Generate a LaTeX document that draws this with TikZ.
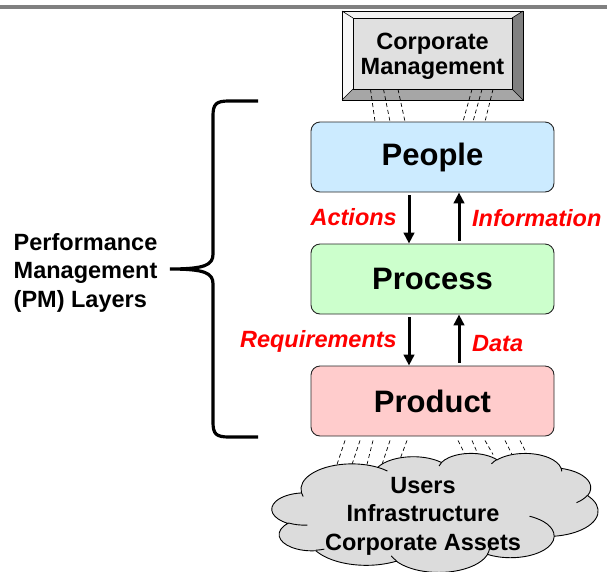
\documentclass[tikz,border=0pt]{standalone}
\usepackage{fontspec}
\setmainfont{Liberation Sans}
\usetikzlibrary{arrows.meta}
\definecolor{peoplefill}{HTML}{CCEBFF}
\definecolor{processfill}{HTML}{CCFFCC}
\definecolor{productfill}{HTML}{FFCCCC}
\definecolor{cloudfill}{HTML}{DCDCDC}
\definecolor{lblred}{HTML}{FF0000}
\tikzset{
  bigtxt/.style={font=\fontsize{23.5}{28.5}\selectfont\bfseries},
  layerbox/.style={draw=black!85, line width=0.9pt, rounded corners=9pt,
    minimum width=243pt, minimum height=70pt,
    font=\fontsize{31}{36}\selectfont\bfseries},
  flow/.style={line width=3pt, -{Triangle[length=11pt,width=10.5pt]}},
  lbl/.style={font=\fontsize{23.5}{28}\selectfont\bfseries\itshape, text=lblred, inner sep=0pt},
  ray/.style={line width=0.7pt, dash pattern=on 4pt off 3pt},
  carc/.style n args={4}{insert path={
    arc[x radius=#1, y radius=#2,
        start angle={atan2(#1*sin(#3),#2*cos(#3))},
        delta angle={mod(atan2(#1*sin(#3+#4),#2*cos(#3+#4))-atan2(#1*sin(#3),#2*cos(#3))+720,360)}]}},
}
\begin{document}
\begin{tikzpicture}[x=1pt,y=-1pt]
\useasboundingbox (0,0) rectangle (607,571);
% top rule
\fill[black!50] (0,5) rectangle (607,8.5);
% corporate management bevel button
\fill[black!5] (342,11) -- (523,11) -- (512,18) -- (353,18) -- cycle;
\fill[black!3] (342,11) -- (353,18) -- (353,89) -- (342,100) -- cycle;
\fill[black!50] (523,11) -- (512,18) -- (512,89) -- (523,100) -- cycle;
\fill[black!35] (342,100) -- (353,89) -- (512,89) -- (523,100) -- cycle;
\draw[line width=0.7pt] (342,11) rectangle (523,100);
\draw[line width=0.6pt] (342,11) -- (353,18) (523,11) -- (512,18) (342,100) -- (353,89) (523,100) -- (512,89);
\node[draw, line width=0.6pt, fill=black!12, minimum width=159pt, minimum height=71pt, inner sep=0pt] (cm) at (432.5,53.5) {};
\node[font=\fontsize{23.5}{24.5}\selectfont\bfseries, align=center, inner sep=0pt] (cmtext) at (432.5,56.2) {Corporate\\Management};
% layers
\node[layerbox, fill=peoplefill] (people) at (432.5,157) {\raisebox{-1.5pt}{People}};
\node[layerbox, fill=processfill] (process) at (432.5,279) {\raisebox{-1.5pt}{Process}};
\node[layerbox, fill=productfill] (product) at (432.5,401) {\raisebox{-1.5pt}{Product}};
% rays corporate -> people
\foreach \a/\b in {-62/-57.5, -49/-42.5, -34.5/-27.5}
  \draw[ray] ([xshift=\a pt]cm.south) -- ([xshift=\b pt]people.north);
\foreach \a/\b in {39.5/30.5, 49.5/40.5, 60.5/52.5}
  \draw[ray] ([xshift=\a pt]cm.south) -- ([xshift=\b pt]people.north);
% rays product -> cloud
\foreach \a/\b in {-87.5/-95.5, -72.5/-80.5, -59.5/-65.5, -42.5/-50.5, -25.5/-34.5}
  \draw[ray] ([xshift=\a pt,yshift=-4pt]product.south) -- ([xshift=\b pt,yshift=-28pt]product.south);
\foreach \a/\b in {25.5/32.5, 39.5/45.5, 52.5/60.5, 72.5/79.5, 87.5/94.5}
  \draw[ray] ([xshift=\a pt,yshift=-4pt]product.south) -- ([xshift=\b pt,yshift=-18pt]product.south);
% cloud (OOXML-style outline in a 432 x 432 frame)
\begin{scope}[shift={(272,453)}, x=0.7546pt, y=-0.2755pt, line width=0.9pt]
\coordinate (cloudnw) at (0,0);
\filldraw[fill=cloudfill] (39,143.7)
  [carc={67.53}{91.90}{-190.487}{123.781}]
  [carc={53.33}{72.67}{-144.102}{89.945}]
  [carc={43.65}{59.45}{-145.808}{99.723}]
  [carc={48.57}{65.95}{-130.986}{117.242}]
  [carc={53.33}{72.73}{-78.709}{109.027}]
  [carc={67.75}{92.20}{-46.267}{130.269}]
  [carc={57.85}{78.67}{0.625}{114.033}]
  [carc={67.52}{92.15}{22.452}{115.173}]
  [carc={77.20}{105.43}{66.243}{75.711}]
  [carc={43.60}{59.18}{-274.942}{146.736}]
  [carc={43.45}{59.45}{-246.829}{152.519}]
  -- cycle;
\draw (46.93,261.77) [carc={43.45}{59.45}{86.742}{26.430}];
\draw (69.28,348.99) [carc={43.60}{59.18}{73.610}{11.447}];
\draw (164.78,390.90) [carc={67.52}{92.15}{137.624}{14.081}];
\draw (288.27,347.51) [carc={67.52}{92.15}{6.453}{15.998}];
\draw (341.29,229.54) [carc={57.85}{78.67}{-70.292}{70.917}];
\draw (417.98,153.54) [carc={53.33}{72.73}{30.318}{27.752}];
\draw (383.24,54.26) [carc={48.57}{65.95}{-13.744}{14.859}];
\draw (290.78,39.52) [carc={48.57}{65.95}{-149.181}{18.195}];
\draw (221.41,47.20) [carc={43.65}{59.45}{-163.494}{17.686}];
\draw (140.00,51.92) [carc={67.53}{91.90}{-66.707}{12.319}];
\draw (41.27,157.89) [carc={67.53}{91.90}{157.654}{11.858}];
\end{scope}
\node[bigtxt, align=center, inner sep=0pt] (cloudtext) at (423,516) {Users\\Infrastructure\\Corporate Assets};
% arrows
\draw[flow] ([xshift=-23.5pt,yshift=-3pt]people.south) -- ([xshift=-23.5pt]process.north);
\draw[flow] ([xshift=26.5pt,yshift=3pt]process.north) -- ([xshift=26.5pt]people.south);
\draw[flow] ([xshift=-23.5pt,yshift=-3pt]process.south) -- ([xshift=-23.5pt]product.north);
\draw[flow] ([xshift=26.5pt,yshift=3pt]product.north) -- ([xshift=26.5pt]process.south);
% labels
\node[lbl, anchor=east] (actions) at (397,217.5) {Actions};
\node[lbl, anchor=west] (information) at (472,218.5) {Information};
\node[lbl, anchor=east] (requirements) at (397,341.5) {Requirements};
\node[lbl, anchor=west] (data) at (472,343.5) {Data};
% brace
\draw[line width=3.2pt] (258,101) -- (229,101) .. controls (216,101) and (213,104) .. (213,116)
  -- (213,254) .. controls (213,265) and (205,269) .. (170,269)
  .. controls (205,269) and (213,273) .. (213,284)
  -- (213,422) .. controls (213,434) and (216,437) .. (229,437) -- (258,437);
\node[bigtxt, align=left, anchor=west, inner sep=0pt] (pm) at (13.5,272.5) {Performance\\Management\\(PM) Layers};
\end{tikzpicture}
\end{document}
